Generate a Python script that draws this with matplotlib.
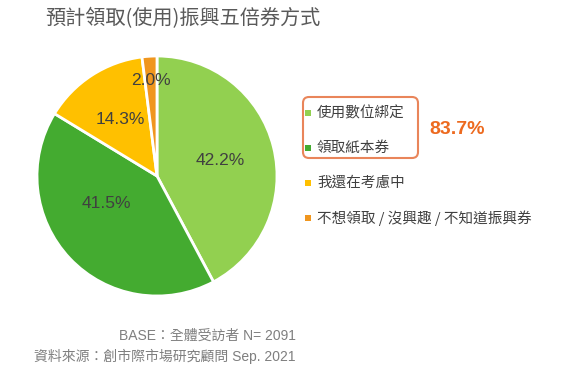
import numpy as np
import matplotlib.pyplot as plt
from matplotlib.patches import FancyBboxPatch

plt.rcParams['font.family'] = ['Liberation Sans', 'Noto Sans CJK TC', 'DejaVu Sans']

# data
categories = ["使用數位綁定", "領取紙本券", "我還在考慮中", "不想領取 / 沒興趣 / 不知道振興券"]
values = [42.2, 41.5, 14.3, 2.0]
colors = ["#92d050", "#44ab30", "#ffc000", "#f0961e"]
combined = "83.7%"
title = "預計領取(使用)振興五倍券方式"
base_note = "BASE：全體受訪者 N= 2091"
source_note = "資料來源：創市際市場研究顧問 Sep. 2021"

# label placement tweaks (radius fraction, angle shift in degrees)
label_r = [0.54, 0.48, 0.56, 0.80]
label_shift = [0, -15, 0, 0]

fig = plt.figure(figsize=(5.62, 3.80), dpi=100)
fig.patch.set_facecolor("white")

# pie axes: centre ~ (157,176) px, radius ~120 px
ax = fig.add_axes([37 / 562, 1 - 296 / 380, 240 / 562, 240 / 380])
wedges, _ = ax.pie(values, colors=colors, startangle=90, counterclock=False,
                   radius=1.0, wedgeprops=dict(edgecolor="white", linewidth=2))
ax.set_xlim(-1, 1)
ax.set_ylim(-1, 1)
ax.set_aspect("equal")

for w, v, r, s in zip(wedges, values, label_r, label_shift):
    mid = np.deg2rad((w.theta1 + w.theta2) / 2 + s)
    ax.text(r * np.cos(mid), r * np.sin(mid), f"{v:.1f}%", ha="center", va="center",
            fontsize=12.5, color="#404040")

# overlay in pixel coordinates
ov = fig.add_axes([0, 0, 1, 1])
ov.set_xlim(0, 562)
ov.set_ylim(380, 0)
ov.axis("off")

ov.text(45, 18, title, fontsize=14.5, color="#595959", va="center", ha="left",
        family=['Noto Sans CJK TC', 'DejaVu Sans'])

legend_y = [113, 148, 183, 218]
for c, lab, y in zip(colors, categories, legend_y):
    ov.scatter([308], [y], marker="s", s=22, color=c, linewidths=0)
    ov.text(317, y, lab, fontsize=10.5, color="#404040", va="center", ha="left",
            family=['Noto Sans CJK TC', 'DejaVu Sans'])

box = FancyBboxPatch((303, 97), 115, 61, boxstyle="round,pad=0,rounding_size=6",
                     fill=False, edgecolor="#e9855a", linewidth=1.5)
ov.add_patch(box)
ov.text(457, 129, combined, fontsize=14, fontweight="bold", color="#ed6a1f",
        ha="center", va="center")

ov.text(296, 336, base_note, fontsize=10, color="#7f7f7f", ha="right", va="center")
ov.text(296, 356, source_note, fontsize=10, color="#7f7f7f", ha="right", va="center")

fig.savefig("out.png", dpi=100)
